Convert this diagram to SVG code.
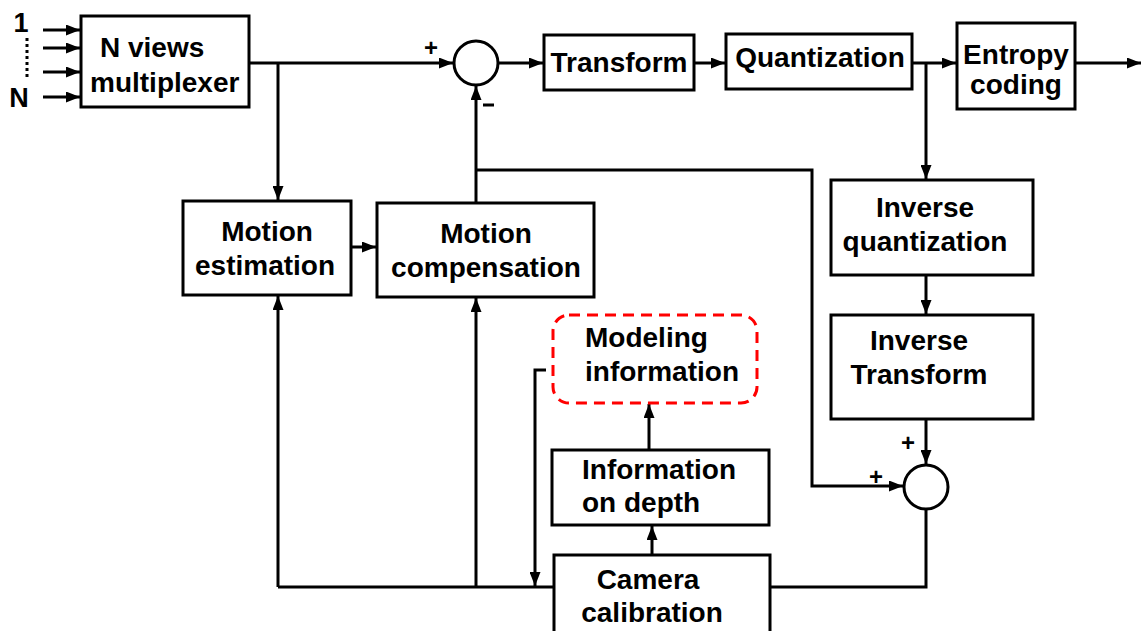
<svg xmlns="http://www.w3.org/2000/svg" width="1142" height="631" viewBox="0 0 1142 631">
<defs>
<marker id="ah" markerUnits="userSpaceOnUse" markerWidth="14" markerHeight="11" refX="14" refY="5.5" orient="auto">
<path d="M0,0 L14,5.5 L0,11 z" fill="#000"/>
</marker>
<style>
.box{fill:#fff;stroke:#000;stroke-width:3}
.ln{fill:none;stroke:#000;stroke-width:3}
.ar{fill:none;stroke:#000;stroke-width:3;marker-end:url(#ah)}
.t{font-family:"Liberation Sans",Arial,Helvetica,sans-serif;font-weight:bold;font-size:28px;fill:#000;text-anchor:middle}
.l{text-anchor:start}
.sg{font-family:"Liberation Sans",Arial,sans-serif;font-weight:bold;font-size:24px;fill:#000;text-anchor:middle}
.dash{fill:none;stroke:#ff0000;stroke-width:3;stroke-dasharray:11 7}
</style>
</defs>
<rect width="1142" height="631" fill="#fff"/>

<g id="connectors">
<!-- inputs -->
<line class="ar" x1="43" y1="30" x2="80" y2="30"/>
<line class="ar" x1="43" y1="48" x2="80" y2="48"/>
<line class="ar" x1="43" y1="72" x2="80" y2="72"/>
<line class="ar" x1="43" y1="97" x2="80" y2="97"/>
<line x1="27" y1="38" x2="27" y2="80" stroke="#000" stroke-width="3" stroke-dasharray="3 3"/>
<!-- main forward path -->
<line class="ar" x1="249" y1="63" x2="453" y2="63"/>
<line class="ar" x1="278" y1="63" x2="278" y2="200"/>
<line class="ar" x1="498" y1="63" x2="543" y2="63"/>
<line class="ar" x1="694" y1="63" x2="725" y2="63"/>
<line class="ar" x1="912" y1="63" x2="956" y2="63"/>
<line class="ar" x1="1075" y1="63" x2="1141" y2="63"/>
<line class="ar" x1="926" y1="63" x2="926" y2="179"/>
<!-- inverse path -->
<line class="ar" x1="926" y1="275" x2="926" y2="314"/>
<line class="ar" x1="926" y1="419" x2="926" y2="464"/>
<!-- prediction feedback -->
<line class="ar" x1="476" y1="203" x2="476" y2="86"/>
<polyline class="ar" points="476,170 812,170 812,486 903,486"/>
<line class="ar" x1="351" y1="247" x2="376" y2="247"/>
<!-- reconstruction loop -->
<polyline class="ln" points="926,509 926,587 278,587"/>
<line class="ar" x1="278" y1="587" x2="278" y2="296"/>
<line class="ar" x1="476" y1="587" x2="476" y2="298"/>
<!-- modeling info -->
<polyline class="ar" points="546,370 535,370 535,586"/>
<line class="ar" x1="649" y1="450" x2="649" y2="404"/>
<line class="ar" x1="652" y1="555" x2="652" y2="526"/>
</g>

<g id="labels">
<text class="t" x="21" y="32" style="font-size:27px">1</text>
<text class="t" x="19" y="107" style="font-size:27px">N</text>
<text class="sg" x="431" y="56">+</text>
<line x1="483" y1="105" x2="494" y2="105" stroke="#000" stroke-width="3"/>
<text class="sg" x="908" y="451">+</text>
<text class="sg" x="876" y="485">+</text>
</g>

<g id="mux">
<rect class="box" x="81" y="16" width="168" height="91"/>
<text class="t l" x="100" y="57">N views</text>
<text class="t l" x="90" y="92">multiplexer</text>
</g>

<g id="sum1">
<circle class="box" cx="476" cy="63" r="22"/>
</g>

<g id="transform">
<rect class="box" x="544" y="35" width="150" height="55"/>
<text class="t" x="619" y="72">Transform</text>
</g>

<g id="quantization">
<rect class="box" x="726" y="34" width="186" height="55"/>
<text class="t" x="820" y="67">Quantization</text>
</g>

<g id="entropy">
<rect class="box" x="957" y="23" width="118" height="86"/>
<text class="t" x="1016" y="64">Entropy</text>
<text class="t" x="1016" y="94">coding</text>
</g>

<g id="motion-estimation">
<rect class="box" x="183" y="201" width="168" height="94"/>
<text class="t" x="267" y="241">Motion</text>
<text class="t" x="265" y="275">estimation</text>
</g>

<g id="motion-compensation">
<rect class="box" x="377" y="203" width="217" height="94"/>
<text class="t" x="486" y="243">Motion</text>
<text class="t" x="486" y="277">compensation</text>
</g>

<g id="inverse-quantization">
<rect class="box" x="831" y="180" width="202" height="95"/>
<text class="t" x="925" y="217">Inverse</text>
<text class="t" x="925" y="251">quantization</text>
</g>

<g id="inverse-transform">
<rect class="box" x="831" y="315" width="202" height="104"/>
<text class="t" x="919" y="350">Inverse</text>
<text class="t" x="919" y="384">Transform</text>
</g>

<g id="sum2">
<circle class="box" cx="926" cy="487" r="22"/>
</g>

<g id="modeling-information">
<rect class="dash" x="553" y="315" width="204" height="88" rx="16" ry="16"/>
<text class="t l" x="585" y="347">Modeling</text>
<text class="t l" x="585" y="381">information</text>
</g>

<g id="information-on-depth">
<rect class="box" x="552" y="450" width="217" height="75"/>
<text class="t l" x="582" y="479">Information</text>
<text class="t l" x="582" y="512">on depth</text>
</g>

<g id="camera-calibration">
<rect class="box" x="554" y="555" width="216" height="90"/>
<text class="t" x="648" y="589">Camera</text>
<text class="t" x="652" y="622">calibration</text>
</g>
</svg>
